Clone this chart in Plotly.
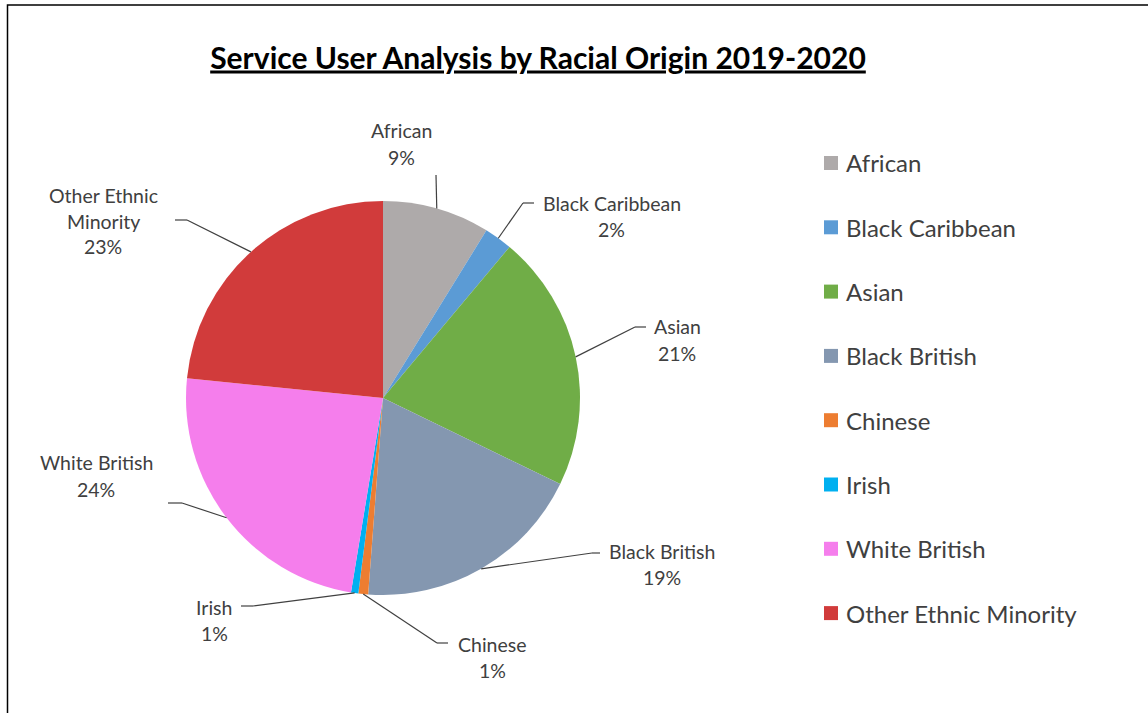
import math
import plotly.graph_objects as go

# ---- data ----
categories = ["African", "Black Caribbean", "Asian", "Black British",
              "Chinese", "Irish", "White British", "Other Ethnic Minority"]
values = [8.8, 2.3, 21.1, 19.0, 0.8, 0.6, 24.0, 23.4]
label_names = ["African", "Black Caribbean", "Asian", "Black British",
               "Chinese", "Irish", "White British", "Other Ethnic<br>Minority"]
title_text = "Service User Analysis by Racial Origin 2019-2020"

# ---- styles / layout (pixels) ----
colors = ["#AEAAAA", "#5B9BD5", "#70AD47", "#8497B0",
          "#ED7D31", "#00B0F0", "#F57EEC", "#D13B3B"]
W, H = 1148, 713
CX, CY, R = 383, 398, 197
FONT = "Lato, 'Open Sans', sans-serif"
TXT = "#404040"

# label text-block centres and leader elbow / stub end (pixels)
label_pos = [(401, 144), (612, 216), (677, 340), (662, 564),
             (492, 657), (214, 620), (96, 476), (103, 221)]
elbow = [(436, 175), (523, 203), (635, 327), (592, 553),
         (437, 643), (253, 606), (182, 503), (187, 220)]
stub_end = [None, (534, 203), (646, 327), (600, 553),
            (448, 643), (241, 606), (168, 503), (175, 220)]


def px(x):
    return x / W


def py(y):
    return 1 - y / H


fig = go.Figure()
fig.add_trace(go.Pie(
    labels=categories, values=values, sort=False, direction="clockwise",
    rotation=0, marker=dict(colors=colors, line=dict(width=0)),
    textinfo="none", hoverinfo="label+percent", showlegend=False,
    domain=dict(x=[px(CX - R), px(CX + R)], y=[py(CY + R), py(CY - R)]),
))

total = sum(values)
shapes = []
annotations = []
cum = 0.0
LINE_H = 26
for i, v in enumerate(values):
    mid = (cum + v / 2) / total * 2 * math.pi
    cum += v
    ex = CX + R * math.sin(mid)
    ey = CY - R * math.cos(mid)
    bx, by = elbow[i]
    shapes.append(dict(type="line", xref="paper", yref="paper",
                       x0=px(ex), y0=py(ey), x1=px(bx), y1=py(by),
                       line=dict(color="#404040", width=1.2)))
    if stub_end[i] is not None:
        sx, sy = stub_end[i]
        shapes.append(dict(type="line", xref="paper", yref="paper",
                           x0=px(bx), y0=py(by), x1=px(sx), y1=py(sy),
                           line=dict(color="#404040", width=1.2)))
    pct = round(v / total * 100)
    lines = label_names[i].split("<br>") + [f"{pct}%"]
    lx, ly = label_pos[i]
    top = ly - LINE_H * (len(lines) - 1) / 2
    for k, t in enumerate(lines):
        annotations.append(dict(x=px(lx), y=py(top + k * LINE_H),
                                xref="paper", yref="paper", text=t,
                                showarrow=False, xanchor="center",
                                yanchor="middle",
                                font=dict(family=FONT, size=19.5, color=TXT)))

# custom legend (square + text), built from the category / colour arrays
LEG_X, LEG_Y0, LEG_DY, SQ = 831, 163, 64.3, 14
for i, (c, col) in enumerate(zip(categories, colors)):
    yy = LEG_Y0 + i * LEG_DY
    shapes.append(dict(type="rect", xref="paper", yref="paper",
                       x0=px(LEG_X - SQ / 2), x1=px(LEG_X + SQ / 2),
                       y0=py(yy + SQ / 2), y1=py(yy - SQ / 2),
                       fillcolor=col, line=dict(width=0)))
    annotations.append(dict(x=px(844), y=py(yy), xref="paper", yref="paper",
                            text=c, showarrow=False, xanchor="left",
                            yanchor="middle",
                            font=dict(family=FONT, size=24, color=TXT)))

# outer frame
shapes.append(dict(type="rect", xref="paper", yref="paper",
                   x0=px(7.5), y0=py(H + 20), x1=px(W + 20), y1=py(5),
                   line=dict(color="#000000", width=1.5),
                   fillcolor="rgba(0,0,0,0)"))

fig.update_layout(
    width=W, height=H,
    margin=dict(l=0, r=0, t=0, b=0),
    paper_bgcolor="white", plot_bgcolor="white",
    title=dict(text=f"<b><u>{title_text}</u></b>", x=538 / W, y=py(58),
               xanchor="center", yanchor="middle",
               font=dict(family=FONT, size=30, color="#000000")),
    shapes=shapes, annotations=annotations,
)

fig.write_html("out.html")
